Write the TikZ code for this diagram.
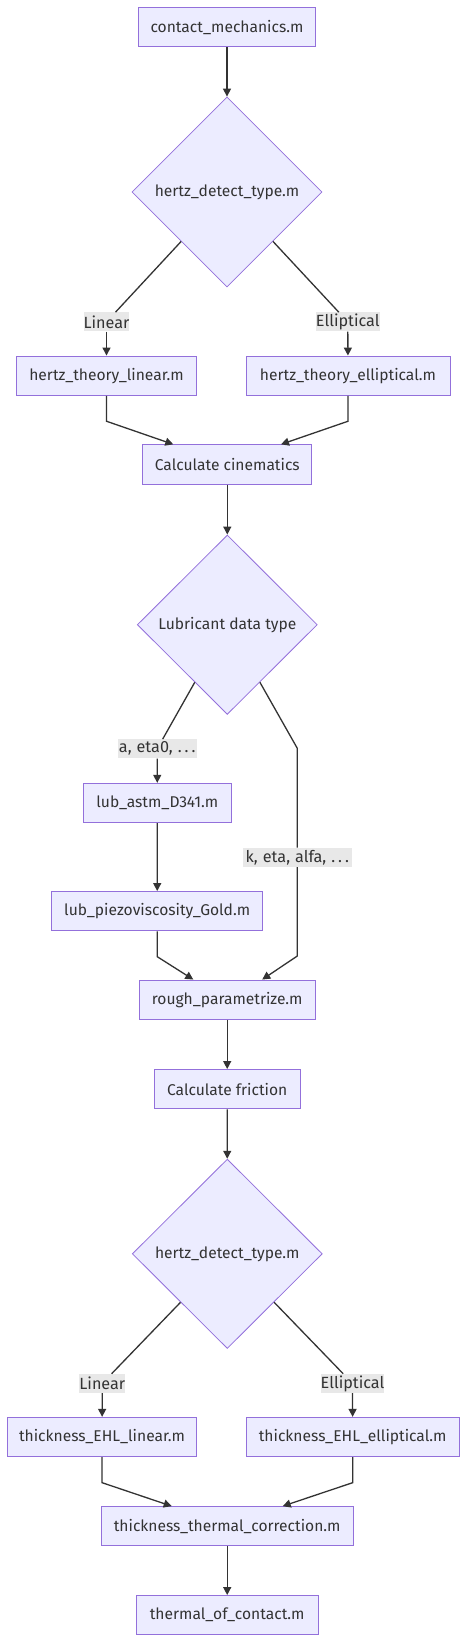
\documentclass[tikz,border=0pt]{standalone}
\usepackage{fontspec}
\setmainfont{Fira Sans}
\usetikzlibrary{shapes.geometric,arrows.meta}
\definecolor{nodefill}{HTML}{ECECFF}
\definecolor{nodeline}{HTML}{9370DB}
\definecolor{edgecol}{HTML}{333333}
\definecolor{labelbg}{HTML}{E8E8E8}
\definecolor{txt}{HTML}{333333}
\newcommand{\mydots}{.\kern3pt.\kern3pt.}
\newcommand{\labsetup}{\fontsize{16.2}{18}\selectfont\spaceskip=5pt\relax}
\begin{document}
\begin{tikzpicture}[x=1pt,y=-1pt,
  txtfont/.style={font=\fontsize{15.6}{18}\selectfont},
  labfont/.style={font=\labsetup},
  box/.style={draw=nodeline,fill=nodefill,line width=1pt,inner sep=0pt,minimum height=39.3pt,text=txt,txtfont},
  dec/.style={diamond,draw=nodeline,fill=nodefill,line width=0.8pt,inner sep=0pt,text=txt,txtfont},
  elab/.style={fill=labelbg,inner sep=0pt,minimum height=19pt,text=txt,labfont},
  conn/.style={draw=edgecol,line width=1.3pt},
  arr/.style={conn,-{Triangle[length=8pt,width=8pt]}}
]
\useasboundingbox (0,0) rectangle (467,1643);
\fill[white] (0,0) rectangle (467,1643);

% section 1
\node[box,minimum width=176.6pt] (c1) at (227,27.3) {contact\_mechanics.m};
\node[dec,minimum width=190pt,minimum height=190pt] (d1) at (227,192) {hertz\_detect\_type.m};
\node[elab,minimum width=45pt] (l1) at (106.5,321.9) {Linear};
\node[elab,minimum width=63.7pt] (l2) at (347.8,321.9) {Elliptical};
\node[box,minimum width=179.6pt] (b1) at (106.5,375.7) {hertz\_theory\_linear.m};
\node[box,minimum width=204pt] (b2) at (348,375.7) {hertz\_theory\_elliptical.m};
\node[box,minimum width=169.3pt] (c2) at (227.3,464.5) {Calculate cinematics};

\draw[arr] (c1) -- (d1);
\draw[conn] (d1) -- (l1);
\draw[arr] (l1) -- (b1);
\draw[conn] (d1) -- (l2);
\draw[arr] (l2) -- (b2);
\draw[arr] (b1.south) -- ++(0,25.4) -- ([xshift=-54pt]c2.north);
\draw[arr] (b2.south) -- ++(0,25.4) -- ([xshift=53.7pt]c2.north);

% section 2
\node[dec,minimum width=180pt,minimum height=179.4pt] (d2) at (227.3,624.7) {Lubricant data type};
\node[elab,minimum width=79pt] (l3) at (157.2,748.8) {a, eta0, \mydots};
\node[box,minimum width=148pt] (b3) at (157.3,803) {lub\_astm\_D341.m};
\node[box,minimum width=211pt] (b4) at (157.2,911.2) {lub\_piezoviscosity\_Gold.m};
\coordinate (k1) at (297.3,748.3);
\node[elab,minimum width=108.7pt] (l4) at (297.3,857.3) {k, eta, alfa, \mydots};
\coordinate (k2) at (297.3,956);
\node[box,minimum width=175.7pt] (r1) at (227.2,999.7) {rough\_parametrize.m};

\draw[arr] (c2) -- (d2);
\draw[conn] (d2) -- (l3);
\draw[arr] (l3) -- (b3);
\draw[arr] (b3) -- (b4);
\draw[conn] (d2) -- (k1) -- (l4);
\draw[arr] (l4) -- (k2) -- ([xshift=35pt]r1.north);
\draw[arr] (b4.south) -- ++(0,25.3) -- ([xshift=-33.9pt]r1.north);

% section 3
\node[box,minimum width=145.7pt] (c3) at (227.2,1089.2) {Calculate friction};
\node[dec,minimum width=190pt,minimum height=189.4pt] (d3) at (227.3,1253.8) {hertz\_detect\_type.m};
\node[elab,minimum width=44.7pt] (l5) at (102.3,1383.4) {Linear};
\node[elab,minimum width=63pt] (l6) at (352.5,1383.4) {Elliptical};
\node[box,minimum width=188.6pt] (t1) at (102,1437) {thickness\_EHL\_linear.m};
\node[box,minimum width=213.3pt] (t2) at (352.7,1437) {thickness\_EHL\_elliptical.m};
\node[box,minimum width=252.3pt] (t3) at (227.2,1526.3) {thickness\_thermal\_correction.m};
\node[box,minimum width=181.7pt] (t4) at (227.2,1615.2) {thermal\_of\_contact.m};

\draw[arr] (r1) -- (c3);
\draw[arr] (c3) -- (d3);
\draw[conn] (d3) -- (l5);
\draw[arr] (l5) -- (t1);
\draw[conn] (d3) -- (l6);
\draw[arr] (l6) -- (t2);
\draw[arr] (t1.south) -- ++(0,25.5) -- ([xshift=-55.5pt]t3.north);
\draw[arr] (t2.south) -- ++(0,25.5) -- ([xshift=55.5pt]t3.north);
\draw[arr] (t3) -- (t4);
\end{tikzpicture}
\end{document}
